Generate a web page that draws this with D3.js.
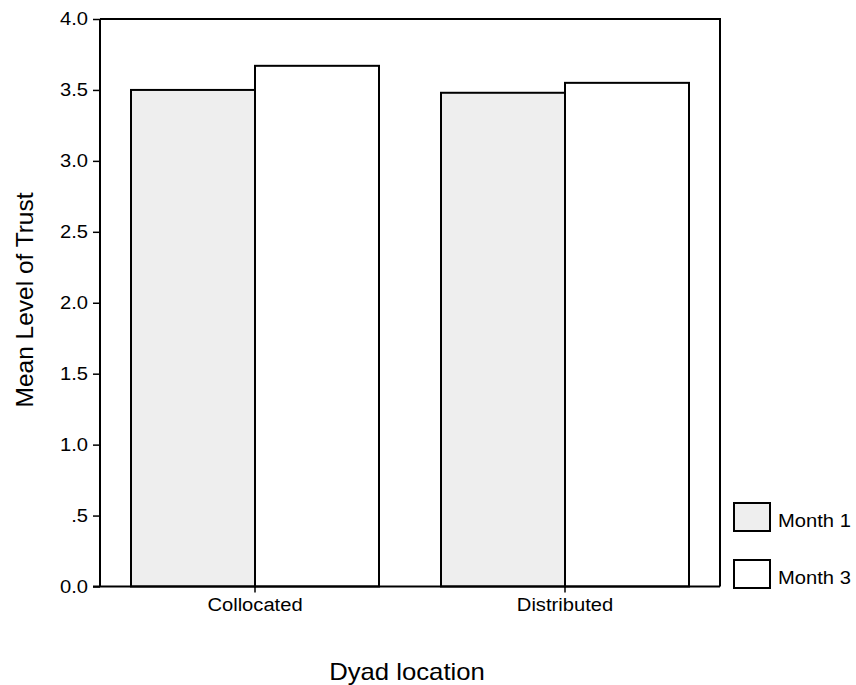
<!DOCTYPE html>
<html><head><meta charset="utf-8">
<script src="https://cdn.jsdelivr.net/npm/d3@7"></script>
<style>body{margin:0;background:#fff}svg{display:block}text{font-family:"Liberation Sans",Arial,sans-serif;fill:#000}</style>
</head><body>
<script>
const categories = ["Collocated", "Distributed"];
const series = ["Month 1", "Month 3"];
const month1 = [3.50, 3.48];
const month3 = [3.67, 3.55];
const yTicks = [0, 0.5, 1.0, 1.5, 2.0, 2.5, 3.0, 3.5, 4.0];
const yTickLabels = ["0.0", ".5", "1.0", "1.5", "2.0", "2.5", "3.0", "3.5", "4.0"];
const colors = ["#eeeeee", "#ffffff"];

const W = 856, H = 685;
const m = {left: 100, right: 136, top: 19, bottom: 98.5};
const svg = d3.select("body").append("svg").attr("width", W).attr("height", H);
const x = d3.scaleBand().domain(categories).range([m.left, W - m.right]).paddingInner(0.2).paddingOuter(0.1);
const xs = d3.scaleBand().domain(series).range([0, x.bandwidth()]);
const y = d3.scaleLinear().domain([0, 4]).range([H - m.bottom, m.top]);

function stretch(sel, k) {
  sel.each(function () {
    const len = this.getComputedTextLength();
    d3.select(this).attr("textLength", len * k).attr("lengthAdjust", "spacingAndGlyphs");
  });
}

const values = [month1, month3];
const data = [];
categories.forEach((c, i) => series.forEach((s, j) => data.push({c, s, v: values[j][i], j})));

svg.append("g").selectAll("rect").data(data).join("rect")
  .attr("x", d => x(d.c) + xs(d.s))
  .attr("y", d => y(d.v))
  .attr("width", xs.bandwidth())
  .attr("height", d => y(0) - y(d.v))
  .attr("fill", d => colors[d.j])
  .attr("stroke", "#000").attr("stroke-width", 2);

svg.append("path")
  .attr("d", `M${m.left},${m.top}H${W - m.right}V${y(0)}`)
  .attr("fill", "none").attr("stroke", "#000").attr("stroke-width", 2);

const yAxis = svg.append("g").attr("transform", `translate(${m.left},0)`)
  .call(d3.axisLeft(y).tickValues(yTicks).tickFormat((d, i) => yTickLabels[i]).tickSize(7).tickPadding(5));
yAxis.select(".domain").attr("stroke-width", 2).attr("d", `M0,${m.top}V${y(0)}`);
yAxis.selectAll(".tick line").attr("stroke-width", 1.5);
yAxis.selectAll("text").attr("font-size", 18).attr("font-family", "Liberation Sans, Arial, sans-serif").call(stretch, 1.12);

const xAxis = svg.append("g").attr("transform", `translate(0,${y(0)})`)
  .call(d3.axisBottom(x).tickSize(6).tickPadding(6));
xAxis.select(".domain").attr("stroke-width", 2).attr("d", `M${m.left - 7},0H${W - m.right}`);
xAxis.selectAll(".tick line").attr("stroke-width", 1.5);
xAxis.selectAll("text").attr("font-size", 18).attr("font-family", "Liberation Sans, Arial, sans-serif").call(stretch, 1.12);

svg.append("text").attr("x", 407).attr("y", 680).attr("text-anchor", "middle")
  .attr("font-size", 24).text("Dyad location").call(stretch, 1.07);
svg.append("text").attr("transform", "translate(33,300) rotate(-90)").attr("text-anchor", "middle")
  .attr("font-size", 24).text("Mean Level of Trust").call(stretch, 1.02);

const leg = svg.append("g").selectAll("g").data(series).join("g")
  .attr("transform", (d, i) => `translate(734,${503 + i * 57})`);
leg.append("rect").attr("width", 36).attr("height", 28)
  .attr("fill", (d, i) => colors[i]).attr("stroke", "#000").attr("stroke-width", 2);
leg.append("text").attr("x", 44).attr("y", 23.5).attr("font-size", 18).text(d => d).call(stretch, 1.12);
</script>
</body></html>
